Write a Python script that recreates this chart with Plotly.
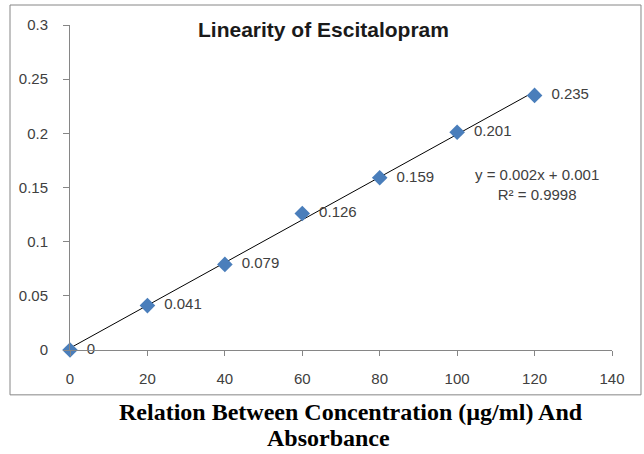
import numpy as np
import plotly.graph_objects as go

# concentration (µg/ml) and absorbance
concentration = [0, 20, 40, 60, 80, 100, 120]
absorbance = [0, 0.041, 0.079, 0.126, 0.159, 0.201, 0.235]
point_labels = ["0", "0.041", "0.079", "0.126", "0.159", "0.201", "0.235"]
x_ticks = [0, 20, 40, 60, 80, 100, 120, 140]
y_ticks = [0, 0.05, 0.1, 0.15, 0.2, 0.25, 0.3]
y_tick_labels = ["0", "0.05", "0.1", "0.15", "0.2", "0.25", "0.3"]

# linear trendline fitted on the data
slope, intercept = np.polyfit(concentration, absorbance, 1)
trend_x = [concentration[0], concentration[-1]]
trend_y = [slope * v + intercept for v in trend_x]

font_axis = "Liberation Sans, Arial, sans-serif"
font_serif = "Liberation Serif, Times New Roman, serif"
text_grey = "#404040"
axis_grey = "#868686"

fig = go.Figure()

fig.add_trace(go.Scatter(
    x=trend_x,
    y=trend_y,
    mode='lines',
    line=dict(color='#000000', width=1),
    hoverinfo='skip',
    showlegend=False,
    cliponaxis=False
))

fig.add_trace(go.Scatter(
    x=concentration,
    y=absorbance,
    mode='markers+text',
    marker=dict(symbol='diamond', size=12, color='#4A7EBB'),
    text=["  " + s for s in point_labels],
    textposition='middle right',
    textfont=dict(family=font_axis, size=15, color=text_grey),
    showlegend=False,
    cliponaxis=False
))

fig.add_annotation(
    x=0.467, y=0.985, xref='paper', yref='paper',
    yanchor='middle',
    text="<b>Linearity of Escitalopram</b>",
    showarrow=False,
    font=dict(family=font_axis, size=21, color='#1a1a1a')
)

fig.add_annotation(
    x=120.6, y=0.1532,
    yanchor='middle',
    text="y = 0.002x + 0.001<br>R² = 0.9998",
    showarrow=False,
    align='center',
    font=dict(family=font_axis, size=15, color=text_grey)
)

fig.add_annotation(
    x=0.519, y=-0.191, xref='paper', yref='paper',
    yanchor='middle',
    text="<b>Relation Between Concentration (µg/ml) And</b>",
    showarrow=False,
    font=dict(family=font_serif, size=24, color='#000000')
)
fig.add_annotation(
    x=0.477, y=-0.271, xref='paper', yref='paper',
    yanchor='middle',
    text="<b>Absorbance</b>",
    showarrow=False,
    font=dict(family=font_serif, size=24, color='#000000')
)

# outer chart border
fig.add_shape(
    type='rect', xref='paper', yref='paper',
    x0=-0.1107, x1=1.0535, y0=-0.138, y1=1.0615,
    line=dict(color=axis_grey, width=1)
)

fig.update_xaxes(
    range=[0, 140],
    tickvals=x_ticks,
    ticks='outside', ticklen=5, tickcolor=axis_grey,
    showline=True, linecolor=axis_grey, linewidth=1,
    showgrid=False, zeroline=False,
    tickfont=dict(family=font_axis, size=15, color=text_grey),
    ticklabelstandoff=10
)

fig.update_yaxes(
    range=[0, 0.3],
    tickvals=y_ticks,
    ticktext=y_tick_labels,
    ticks='outside', ticklen=6, tickcolor=axis_grey,
    showline=True, linecolor=axis_grey, linewidth=1,
    showgrid=False, zeroline=False,
    tickfont=dict(family=font_axis, size=15, color=text_grey),
    ticklabelstandoff=12
)

fig.update_layout(
    width=644,
    height=454,
    margin=dict(l=70, r=32, t=25, b=104),
    plot_bgcolor='white',
    paper_bgcolor='white'
)

fig.write_html("out.html", config={'displayModeBar': False},
               post_script="document.body.style.margin='0';")
